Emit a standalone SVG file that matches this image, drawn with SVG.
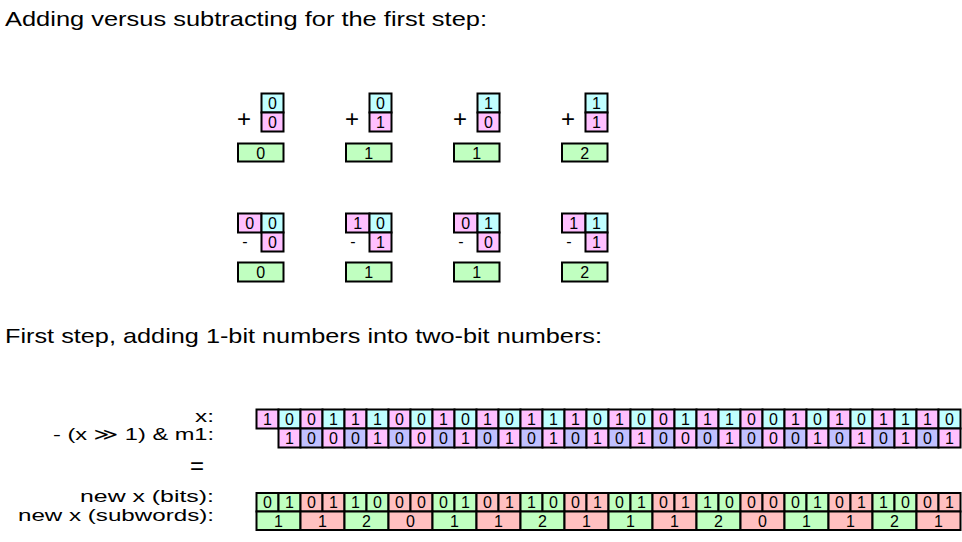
<svg xmlns="http://www.w3.org/2000/svg" width="962" height="542" viewBox="0 0 962 542">
<style>
text{font-family:"Liberation Sans","DejaVu Sans",sans-serif;fill:#000}
.t{font-size:21px}
.l{font-size:17px;text-anchor:end}
.d{font-size:16px;text-anchor:middle}
rect{stroke:#000;stroke-width:2}
.p{fill:#ffc0ff}.c{fill:#c0ffff}.v{fill:#c0c0ff}.g{fill:#c0ffc0}.r{fill:#ffc0c0}
.op{font-size:24px;text-anchor:middle}
.mi{font-size:16px;text-anchor:middle}
</style>
<rect width="962" height="542" fill="#fff" style="stroke:none"/>
<text class="t" x="5" y="26" textLength="482" lengthAdjust="spacingAndGlyphs">Adding versus subtracting for the first step:</text>
<text class="t" x="5" y="343" textLength="597" lengthAdjust="spacingAndGlyphs">First step, adding 1-bit numbers into two-bit numbers:</text>

<g id="add00">
<rect class="c" x="261.5" y="93.5" width="22" height="19"/><rect class="p" x="261.5" y="112.5" width="22" height="19"/>
<text class="op" x="244" y="127">+</text>
<text class="d" x="272.5" y="108.5">0</text><text class="d" x="272.5" y="127.5">0</text>
<rect class="g" x="238" y="143.5" width="45.5" height="18"/><text class="d" x="260.75" y="158.5">0</text>
</g>
<g id="add01">
<rect class="c" x="369.5" y="93.5" width="22" height="19"/><rect class="p" x="369.5" y="112.5" width="22" height="19"/>
<text class="op" x="352" y="127">+</text>
<text class="d" x="380.5" y="108.5">0</text><text class="d" x="380.5" y="127.5">1</text>
<rect class="g" x="346" y="143.5" width="45.5" height="18"/><text class="d" x="368.75" y="158.5">1</text>
</g>
<g id="add10">
<rect class="c" x="477.5" y="93.5" width="22" height="19"/><rect class="p" x="477.5" y="112.5" width="22" height="19"/>
<text class="op" x="460" y="127">+</text>
<text class="d" x="488.5" y="108.5">1</text><text class="d" x="488.5" y="127.5">0</text>
<rect class="g" x="454" y="143.5" width="45.5" height="18"/><text class="d" x="476.75" y="158.5">1</text>
</g>
<g id="add11">
<rect class="c" x="585.5" y="93.5" width="22" height="19"/><rect class="p" x="585.5" y="112.5" width="22" height="19"/>
<text class="op" x="568" y="127">+</text>
<text class="d" x="596.5" y="108.5">1</text><text class="d" x="596.5" y="127.5">1</text>
<rect class="g" x="562" y="143.5" width="45.5" height="18"/><text class="d" x="584.75" y="158.5">2</text>
</g>

<g id="sub00">
<rect class="p" x="238" y="213.5" width="23.5" height="19"/><rect class="c" x="261.5" y="213.5" width="22" height="19"/><rect class="p" x="261.5" y="232.5" width="22" height="19"/>
<text class="mi" x="245" y="247">-</text>
<text class="d" x="249.75" y="228.5">0</text><text class="d" x="272.5" y="228.5">0</text><text class="d" x="272.5" y="247.5">0</text>
<rect class="g" x="238" y="262.5" width="45.5" height="19"/><text class="d" x="260.75" y="278">0</text>
</g>
<g id="sub10">
<rect class="p" x="346" y="213.5" width="23.5" height="19"/><rect class="c" x="369.5" y="213.5" width="22" height="19"/><rect class="p" x="369.5" y="232.5" width="22" height="19"/>
<text class="mi" x="353" y="247">-</text>
<text class="d" x="357.75" y="228.5">1</text><text class="d" x="380.5" y="228.5">0</text><text class="d" x="380.5" y="247.5">1</text>
<rect class="g" x="346" y="262.5" width="45.5" height="19"/><text class="d" x="368.75" y="278">1</text>
</g>
<g id="sub01">
<rect class="p" x="454" y="213.5" width="23.5" height="19"/><rect class="c" x="477.5" y="213.5" width="22" height="19"/><rect class="p" x="477.5" y="232.5" width="22" height="19"/>
<text class="mi" x="461" y="247">-</text>
<text class="d" x="465.75" y="228.5">0</text><text class="d" x="488.5" y="228.5">1</text><text class="d" x="488.5" y="247.5">0</text>
<rect class="g" x="454" y="262.5" width="45.5" height="19"/><text class="d" x="476.75" y="278">1</text>
</g>
<g id="sub11">
<rect class="p" x="562" y="213.5" width="23.5" height="19"/><rect class="c" x="585.5" y="213.5" width="22" height="19"/><rect class="p" x="585.5" y="232.5" width="22" height="19"/>
<text class="mi" x="569" y="247">-</text>
<text class="d" x="573.75" y="228.5">1</text><text class="d" x="596.5" y="228.5">1</text><text class="d" x="596.5" y="247.5">1</text>
<rect class="g" x="562" y="262.5" width="45.5" height="19"/><text class="d" x="584.75" y="278">2</text>
</g>

<g id="labels">
<text class="l" x="214" y="422" textLength="19" lengthAdjust="spacingAndGlyphs">x:</text>
<text class="l" x="214" y="440" textLength="161" lengthAdjust="spacingAndGlyphs">- (x ≫ 1) &amp; m1:</text>
<text class="op" x="197" y="474">=</text>
<text class="l" x="214" y="502" textLength="134" lengthAdjust="spacingAndGlyphs">new x (bits):</text>
<text class="l" x="214" y="521" textLength="196" lengthAdjust="spacingAndGlyphs">new x (subwords):</text>
</g>

<g id="row-x">
<rect class="p" x="256.5" y="409.5" width="22" height="19"/><rect class="c" x="278.5" y="409.5" width="22" height="19"/><rect class="p" x="300.5" y="409.5" width="22" height="19"/><rect class="c" x="322.5" y="409.5" width="22" height="19"/>
<rect class="p" x="344.5" y="409.5" width="22" height="19"/><rect class="c" x="366.5" y="409.5" width="22" height="19"/><rect class="p" x="388.5" y="409.5" width="22" height="19"/><rect class="c" x="410.5" y="409.5" width="22" height="19"/>
<rect class="p" x="432.5" y="409.5" width="22" height="19"/><rect class="c" x="454.5" y="409.5" width="22" height="19"/><rect class="p" x="476.5" y="409.5" width="22" height="19"/><rect class="c" x="498.5" y="409.5" width="22" height="19"/>
<rect class="p" x="520.5" y="409.5" width="22" height="19"/><rect class="c" x="542.5" y="409.5" width="22" height="19"/><rect class="p" x="564.5" y="409.5" width="22" height="19"/><rect class="c" x="586.5" y="409.5" width="22" height="19"/>
<rect class="p" x="608.5" y="409.5" width="22" height="19"/><rect class="c" x="630.5" y="409.5" width="22" height="19"/><rect class="p" x="652.5" y="409.5" width="22" height="19"/><rect class="c" x="674.5" y="409.5" width="22" height="19"/>
<rect class="p" x="696.5" y="409.5" width="22" height="19"/><rect class="c" x="718.5" y="409.5" width="22" height="19"/><rect class="p" x="740.5" y="409.5" width="22" height="19"/><rect class="c" x="762.5" y="409.5" width="22" height="19"/>
<rect class="p" x="784.5" y="409.5" width="22" height="19"/><rect class="c" x="806.5" y="409.5" width="22" height="19"/><rect class="p" x="828.5" y="409.5" width="22" height="19"/><rect class="c" x="850.5" y="409.5" width="22" height="19"/>
<rect class="p" x="872.5" y="409.5" width="22" height="19"/><rect class="c" x="894.5" y="409.5" width="22" height="19"/><rect class="p" x="916.5" y="409.5" width="22" height="19"/><rect class="c" x="938.5" y="409.5" width="22" height="19"/>
<text class="d" x="267.5" y="424.5">1</text><text class="d" x="289.5" y="424.5">0</text><text class="d" x="311.5" y="424.5">0</text><text class="d" x="333.5" y="424.5">1</text>
<text class="d" x="355.5" y="424.5">1</text><text class="d" x="377.5" y="424.5">1</text><text class="d" x="399.5" y="424.5">0</text><text class="d" x="421.5" y="424.5">0</text>
<text class="d" x="443.5" y="424.5">1</text><text class="d" x="465.5" y="424.5">0</text><text class="d" x="487.5" y="424.5">1</text><text class="d" x="509.5" y="424.5">0</text>
<text class="d" x="531.5" y="424.5">1</text><text class="d" x="553.5" y="424.5">1</text><text class="d" x="575.5" y="424.5">1</text><text class="d" x="597.5" y="424.5">0</text>
<text class="d" x="619.5" y="424.5">1</text><text class="d" x="641.5" y="424.5">0</text><text class="d" x="663.5" y="424.5">0</text><text class="d" x="685.5" y="424.5">1</text>
<text class="d" x="707.5" y="424.5">1</text><text class="d" x="729.5" y="424.5">1</text><text class="d" x="751.5" y="424.5">0</text><text class="d" x="773.5" y="424.5">0</text>
<text class="d" x="795.5" y="424.5">1</text><text class="d" x="817.5" y="424.5">0</text><text class="d" x="839.5" y="424.5">1</text><text class="d" x="861.5" y="424.5">0</text>
<text class="d" x="883.5" y="424.5">1</text><text class="d" x="905.5" y="424.5">1</text><text class="d" x="927.5" y="424.5">1</text><text class="d" x="949.5" y="424.5">0</text>
</g>

<g id="row-shift">
<rect class="p" x="278.5" y="428.5" width="22" height="19"/><rect class="v" x="300.5" y="428.5" width="22" height="19"/><rect class="p" x="322.5" y="428.5" width="22" height="19"/><rect class="v" x="344.5" y="428.5" width="22" height="19"/>
<rect class="p" x="366.5" y="428.5" width="22" height="19"/><rect class="v" x="388.5" y="428.5" width="22" height="19"/><rect class="p" x="410.5" y="428.5" width="22" height="19"/><rect class="v" x="432.5" y="428.5" width="22" height="19"/>
<rect class="p" x="454.5" y="428.5" width="22" height="19"/><rect class="v" x="476.5" y="428.5" width="22" height="19"/><rect class="p" x="498.5" y="428.5" width="22" height="19"/><rect class="v" x="520.5" y="428.5" width="22" height="19"/>
<rect class="p" x="542.5" y="428.5" width="22" height="19"/><rect class="v" x="564.5" y="428.5" width="22" height="19"/><rect class="p" x="586.5" y="428.5" width="22" height="19"/><rect class="v" x="608.5" y="428.5" width="22" height="19"/>
<rect class="p" x="630.5" y="428.5" width="22" height="19"/><rect class="v" x="652.5" y="428.5" width="22" height="19"/><rect class="p" x="674.5" y="428.5" width="22" height="19"/><rect class="v" x="696.5" y="428.5" width="22" height="19"/>
<rect class="p" x="718.5" y="428.5" width="22" height="19"/><rect class="v" x="740.5" y="428.5" width="22" height="19"/><rect class="p" x="762.5" y="428.5" width="22" height="19"/><rect class="v" x="784.5" y="428.5" width="22" height="19"/>
<rect class="p" x="806.5" y="428.5" width="22" height="19"/><rect class="v" x="828.5" y="428.5" width="22" height="19"/><rect class="p" x="850.5" y="428.5" width="22" height="19"/><rect class="v" x="872.5" y="428.5" width="22" height="19"/>
<rect class="p" x="894.5" y="428.5" width="22" height="19"/><rect class="v" x="916.5" y="428.5" width="22" height="19"/><rect class="p" x="938.5" y="428.5" width="22" height="19"/>
<text class="d" x="289.5" y="443.5">1</text><text class="d" x="311.5" y="443.5">0</text><text class="d" x="333.5" y="443.5">0</text><text class="d" x="355.5" y="443.5">0</text>
<text class="d" x="377.5" y="443.5">1</text><text class="d" x="399.5" y="443.5">0</text><text class="d" x="421.5" y="443.5">0</text><text class="d" x="443.5" y="443.5">0</text>
<text class="d" x="465.5" y="443.5">1</text><text class="d" x="487.5" y="443.5">0</text><text class="d" x="509.5" y="443.5">1</text><text class="d" x="531.5" y="443.5">0</text>
<text class="d" x="553.5" y="443.5">1</text><text class="d" x="575.5" y="443.5">0</text><text class="d" x="597.5" y="443.5">1</text><text class="d" x="619.5" y="443.5">0</text>
<text class="d" x="641.5" y="443.5">1</text><text class="d" x="663.5" y="443.5">0</text><text class="d" x="685.5" y="443.5">0</text><text class="d" x="707.5" y="443.5">0</text>
<text class="d" x="729.5" y="443.5">1</text><text class="d" x="751.5" y="443.5">0</text><text class="d" x="773.5" y="443.5">0</text><text class="d" x="795.5" y="443.5">0</text>
<text class="d" x="817.5" y="443.5">1</text><text class="d" x="839.5" y="443.5">0</text><text class="d" x="861.5" y="443.5">1</text><text class="d" x="883.5" y="443.5">0</text>
<text class="d" x="905.5" y="443.5">1</text><text class="d" x="927.5" y="443.5">0</text><text class="d" x="949.5" y="443.5">1</text>
</g>

<g id="row-bits">
<rect class="g" x="256.5" y="493" width="22" height="18.5"/><rect class="g" x="278.5" y="493" width="22" height="18.5"/><rect class="r" x="300.5" y="493" width="22" height="18.5"/><rect class="r" x="322.5" y="493" width="22" height="18.5"/>
<rect class="g" x="344.5" y="493" width="22" height="18.5"/><rect class="g" x="366.5" y="493" width="22" height="18.5"/><rect class="r" x="388.5" y="493" width="22" height="18.5"/><rect class="r" x="410.5" y="493" width="22" height="18.5"/>
<rect class="g" x="432.5" y="493" width="22" height="18.5"/><rect class="g" x="454.5" y="493" width="22" height="18.5"/><rect class="r" x="476.5" y="493" width="22" height="18.5"/><rect class="r" x="498.5" y="493" width="22" height="18.5"/>
<rect class="g" x="520.5" y="493" width="22" height="18.5"/><rect class="g" x="542.5" y="493" width="22" height="18.5"/><rect class="r" x="564.5" y="493" width="22" height="18.5"/><rect class="r" x="586.5" y="493" width="22" height="18.5"/>
<rect class="g" x="608.5" y="493" width="22" height="18.5"/><rect class="g" x="630.5" y="493" width="22" height="18.5"/><rect class="r" x="652.5" y="493" width="22" height="18.5"/><rect class="r" x="674.5" y="493" width="22" height="18.5"/>
<rect class="g" x="696.5" y="493" width="22" height="18.5"/><rect class="g" x="718.5" y="493" width="22" height="18.5"/><rect class="r" x="740.5" y="493" width="22" height="18.5"/><rect class="r" x="762.5" y="493" width="22" height="18.5"/>
<rect class="g" x="784.5" y="493" width="22" height="18.5"/><rect class="g" x="806.5" y="493" width="22" height="18.5"/><rect class="r" x="828.5" y="493" width="22" height="18.5"/><rect class="r" x="850.5" y="493" width="22" height="18.5"/>
<rect class="g" x="872.5" y="493" width="22" height="18.5"/><rect class="g" x="894.5" y="493" width="22" height="18.5"/><rect class="r" x="916.5" y="493" width="22" height="18.5"/><rect class="r" x="938.5" y="493" width="22" height="18.5"/>
<text class="d" x="267.5" y="508">0</text><text class="d" x="289.5" y="508">1</text><text class="d" x="311.5" y="508">0</text><text class="d" x="333.5" y="508">1</text>
<text class="d" x="355.5" y="508">1</text><text class="d" x="377.5" y="508">0</text><text class="d" x="399.5" y="508">0</text><text class="d" x="421.5" y="508">0</text>
<text class="d" x="443.5" y="508">0</text><text class="d" x="465.5" y="508">1</text><text class="d" x="487.5" y="508">0</text><text class="d" x="509.5" y="508">1</text>
<text class="d" x="531.5" y="508">1</text><text class="d" x="553.5" y="508">0</text><text class="d" x="575.5" y="508">0</text><text class="d" x="597.5" y="508">1</text>
<text class="d" x="619.5" y="508">0</text><text class="d" x="641.5" y="508">1</text><text class="d" x="663.5" y="508">0</text><text class="d" x="685.5" y="508">1</text>
<text class="d" x="707.5" y="508">1</text><text class="d" x="729.5" y="508">0</text><text class="d" x="751.5" y="508">0</text><text class="d" x="773.5" y="508">0</text>
<text class="d" x="795.5" y="508">0</text><text class="d" x="817.5" y="508">1</text><text class="d" x="839.5" y="508">0</text><text class="d" x="861.5" y="508">1</text>
<text class="d" x="883.5" y="508">1</text><text class="d" x="905.5" y="508">0</text><text class="d" x="927.5" y="508">0</text><text class="d" x="949.5" y="508">1</text>
</g>

<g id="row-subwords">
<rect class="g" x="256.5" y="511.5" width="44" height="18.5"/><rect class="r" x="300.5" y="511.5" width="44" height="18.5"/><rect class="g" x="344.5" y="511.5" width="44" height="18.5"/><rect class="r" x="388.5" y="511.5" width="44" height="18.5"/>
<rect class="g" x="432.5" y="511.5" width="44" height="18.5"/><rect class="r" x="476.5" y="511.5" width="44" height="18.5"/><rect class="g" x="520.5" y="511.5" width="44" height="18.5"/><rect class="r" x="564.5" y="511.5" width="44" height="18.5"/>
<rect class="g" x="608.5" y="511.5" width="44" height="18.5"/><rect class="r" x="652.5" y="511.5" width="44" height="18.5"/><rect class="g" x="696.5" y="511.5" width="44" height="18.5"/><rect class="r" x="740.5" y="511.5" width="44" height="18.5"/>
<rect class="g" x="784.5" y="511.5" width="44" height="18.5"/><rect class="r" x="828.5" y="511.5" width="44" height="18.5"/><rect class="g" x="872.5" y="511.5" width="44" height="18.5"/><rect class="r" x="916.5" y="511.5" width="44" height="18.5"/>
<text class="d" x="278.5" y="526.5">1</text><text class="d" x="322.5" y="526.5">1</text><text class="d" x="366.5" y="526.5">2</text><text class="d" x="410.5" y="526.5">0</text>
<text class="d" x="454.5" y="526.5">1</text><text class="d" x="498.5" y="526.5">1</text><text class="d" x="542.5" y="526.5">2</text><text class="d" x="586.5" y="526.5">1</text>
<text class="d" x="630.5" y="526.5">1</text><text class="d" x="674.5" y="526.5">1</text><text class="d" x="718.5" y="526.5">2</text><text class="d" x="762.5" y="526.5">0</text>
<text class="d" x="806.5" y="526.5">1</text><text class="d" x="850.5" y="526.5">1</text><text class="d" x="894.5" y="526.5">2</text><text class="d" x="938.5" y="526.5">1</text>
</g>
</svg>
